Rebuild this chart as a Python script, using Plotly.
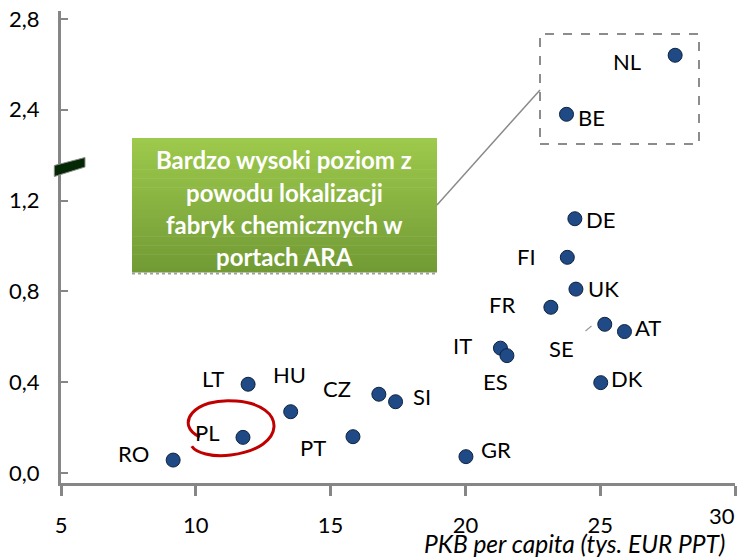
import plotly.graph_objects as go

# ---- data ----
countries = ["NL", "BE", "DE", "FI", "UK", "FR", "SE", "AT", "IT", "ES", "DK", "GR",
             "LT", "HU", "CZ", "SI", "PL", "PT", "RO"]
gdp_pc = [27.78, 23.75, 24.06, 23.78, 24.10, 23.17, 25.17, 25.90, 21.30, 21.54, 25.02, 20.02,
          11.94, 13.52, 16.79, 17.41, 11.75, 15.83, 9.16]
values = [2.64, 2.38, 1.12, 0.95, 0.81, 0.73, 0.655, 0.623, 0.55, 0.517, 0.398, 0.072,
          0.391, 0.27, 0.347, 0.314, 0.157, 0.16, 0.057]

y_tick_vals = [0.0, 0.4, 0.8, 1.2, 2.4, 2.8]
y_tick_text = ["0,0", "0,4", "0,8", "1,2", "2,4", "2,8"]
x_tick_vals = [5, 10, 15, 20, 25, 30]
x_tick_text = ["5", "10", "15", "20", "25", "30"]

# broken axis: values above the break are shifted down by the gap
BREAK_SPLIT = 2.0
GAP = 0.8


def axis_pos(v):
    return v - GAP if v > BREAK_SPLIT else v


y_plot = [axis_pos(v) for v in values]
y_tick_pos = [axis_pos(v) for v in y_tick_vals]

# label offsets in pixels (dx, dy up)
label_offsets = {
    "NL": (-48, -6), "BE": (25, -3), "DE": (26, -1), "FI": (-41, 1), "UK": (28, 1),
    "FR": (-49, 3), "SE": (-43, -24), "AT": (24, 4), "IT": (-38, 3), "ES": (-11, -26),
    "DK": (26, 4), "GR": (30, 7), "LT": (-35, 6), "HU": (-1, 37), "CZ": (-42, 6),
    "SI": (26, 5), "PL": (-35, 5), "PT": (-40, -11), "RO": (-40, 7),
}

FONT = "Lato"

fig = go.Figure()
fig.add_trace(go.Scatter(
    x=gdp_pc, y=y_plot, mode="markers",
    marker=dict(size=14, color="#1F4A86", line=dict(color="#0E2340", width=1)),
    hoverinfo="skip", showlegend=False, cliponaxis=False,
))

annotations = []
for c, xv, yv in zip(countries, gdp_pc, y_plot):
    dx, dy = label_offsets[c]
    annotations.append(dict(x=xv, y=yv, xref="x", yref="y", text=c, showarrow=False,
                            xshift=dx, yshift=dy, font=dict(family=FONT, size=22, color="#000000")))

# green callout text
box_lines = ["Bardzo wysoki poziom z", "powodu lokalizacji", "fabryk chemicznych w", "portach ARA"]
W, H = 737, 557
L, R, T, B = 61, 2, 11, 74
pw, ph = W - L - R, H - T - B


def px_to_paper(px, py):
    return (px - L) / pw, (H - B - py) / ph


line_y_px = [159, 192, 224, 256]
for txt, ly in zip(box_lines, line_y_px):
    xp, yp = px_to_paper(284, ly)
    annotations.append(dict(x=xp, y=yp, xref="paper", yref="paper", text=txt, showarrow=False,
                            xanchor="center", yanchor="middle",
                            font=dict(family=FONT, size=24, color="white", weight="bold")))

# last x tick label sits inside the right edge (as in the reference)
xp, yp = px_to_paper(737, 515)
annotations.append(dict(x=xp, y=yp, xref="paper", yref="paper", text=x_tick_text[-1], showarrow=False,
                        xanchor="right", yanchor="middle", font=dict(family=FONT, size=22, color="#000000")))
x_tick_labels = x_tick_text[:-1] + [""]

# x axis title
xp, yp = px_to_paper(727, 543)
annotations.append(dict(x=xp, y=yp, xref="paper", yref="paper", text="<i>PKB per capita (tys. EUR PPT)</i>",
                        showarrow=False, xanchor="right", yanchor="middle",
                        font=dict(family=FONT, size=24.5, color="#000000")))

shapes = []
# gradient box (vertical strips)
bx0, bx1, by0, by1 = 132, 437, 138, 272
top_c = (0x9D, 0xC9, 0x4C)
bot_c = (0x72, 0x9B, 0x35)
n = 30
for i in range(n):
    t = i / (n - 1)
    col = tuple(round(top_c[k] + (bot_c[k] - top_c[k]) * t) for k in range(3))
    ya = by0 + (by1 - by0) * i / n
    yb = by0 + (by1 - by0) * (i + 1) / n + 0.6
    x0p, y0p = px_to_paper(bx0, ya)
    x1p, y1p = px_to_paper(bx1, yb)
    shapes.append(dict(type="rect", xref="paper", yref="paper", x0=x0p, x1=x1p, y0=y1p, y1=y0p,
                       fillcolor="rgb(%d,%d,%d)" % col, line=dict(width=0), layer="below"))
# box shadow
x0p, y0p = px_to_paper(bx0, by1 + 1.5)
x1p, _ = px_to_paper(bx1, by1 + 1.5)
shapes.append(dict(type="line", xref="paper", yref="paper", x0=x0p, x1=x1p, y0=y0p, y1=y0p,
                   line=dict(color="#A0A0A0", width=2, dash="dot")))

# connector line
x0p, y0p = px_to_paper(437, 205)
x1p, y1p = px_to_paper(540, 90)
shapes.append(dict(type="line", xref="paper", yref="paper", x0=x0p, y0=y0p, x1=x1p, y1=y1p,
                   line=dict(color="#8A8A8A", width=1.5)))
# dashed rectangle
x0p, y0p = px_to_paper(540, 34)
x1p, y1p = px_to_paper(699, 144)
shapes.append(dict(type="rect", xref="paper", yref="paper", x0=x0p, y0=y1p, x1=x1p, y1=y0p,
                   line=dict(color="#8C8C8C", width=2, dash="dash"), fillcolor="rgba(0,0,0,0)"))
# SE leader line
x0p, y0p = px_to_paper(585.5, 331)
x1p, y1p = px_to_paper(591.5, 326)
shapes.append(dict(type="line", xref="paper", yref="paper", x0=x0p, y0=y0p, x1=x1p, y1=y1p,
                   line=dict(color="#9A9A9A", width=1.2)))

# hand-drawn loop around PL
loop = "M 10.15,0.159 C 9.2,0.21 9.9,0.335 11.5,0.317 C 13.4,0.30 13.4,0.11 11.3,0.079 C 10.6,0.068 10.0,0.09 9.85,0.118"
shapes.append(dict(type="path", xref="x", yref="y", path=loop, line=dict(color="#C00000", width=3)))

# axis break marker
pts = [(54.3, 165.5), (85, 157.5), (85, 167), (54.3, 176.5)]
pp = [px_to_paper(*p) for p in pts]
path = "M %f,%f L %f,%f L %f,%f L %f,%f Z" % tuple(v for p in pp for v in p)
shapes.append(dict(type="path", xref="paper", yref="paper", path=path, fillcolor="#032803",
                   line=dict(color="#8A8A8A", width=1)))

fig.update_layout(
    width=W, height=H, margin=dict(l=L, r=R, t=T, b=B),
    plot_bgcolor="white", paper_bgcolor="white",
    xaxis=dict(range=[5, 30], tickvals=x_tick_vals, ticktext=x_tick_labels, showgrid=False, zeroline=False,
               showline=True, linecolor="#868686", linewidth=3, automargin=False,
               ticks="outside", ticklen=10, tickwidth=3, tickcolor="#868686",
               tickfont=dict(family=FONT, size=22, color="#000000"), ticklabelstandoff=11),
    yaxis=dict(range=[-0.044, 2.035], tickvals=y_tick_pos, ticktext=y_tick_text,
               showgrid=False, zeroline=False, showline=True, linecolor="#868686", linewidth=3,
               automargin=False,
               ticks="inside", ticklen=7, tickwidth=2, tickcolor="#868686",
               tickfont=dict(family=FONT, size=22, color="#000000"), ticklabelstandoff=14),
    annotations=annotations, shapes=shapes, font=dict(family=FONT),
)

fig.write_html("out.html", config={"displayModeBar": False},
               post_script="document.body.style.margin='0';document.body.style.overflow='hidden';")
